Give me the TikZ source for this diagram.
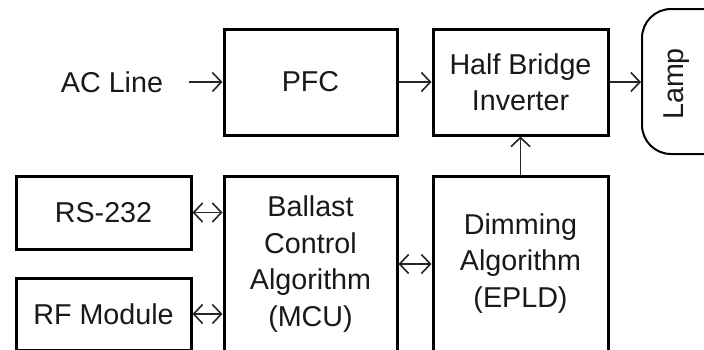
\documentclass[tikz,border=0pt]{standalone}
\usepackage{fontspec}
\setmainfont{Liberation Sans}
\usetikzlibrary{arrows.meta}
\begin{document}
\begin{tikzpicture}[x=1pt,y=-1pt,
  every node/.style={font=\fontsize{28.7}{36.5}\selectfont, text=black!90},
  blk/.style={draw=black, line width=3pt, align=center, inner sep=0pt},
  tip/.tip={Straight Barb[length=9pt,width=19pt,line width=1.6pt]},
  arr/.style={line width=1.7pt, draw=black!85, -tip},
  darr/.style={line width=1.7pt, draw=black!85, tip-tip}]
\useasboundingbox (0,0) rectangle (704,349);
\clip (0,0) rectangle (704,349);
\node[blk, minimum width=173pt, minimum height=106pt] (pfc) at (310.5,82) {PFC};
\node[blk, minimum width=175pt, minimum height=106pt] (hb) at (520.5,82) {Half Bridge\\Inverter};
\node[blk, minimum width=175pt, minimum height=73pt] (rs) at (103.5,212.5) {RS-232};
\node[blk, minimum width=175pt, minimum height=72pt] (rf) at (103.5,314) {RF Module};
\node[blk, minimum width=173pt, minimum height=175pt] (mcu) at (310.5,264) {Ballast\\Control\\Algorithm\\(MCU)};
\node[blk, minimum width=175pt, minimum height=175pt] (epld) at (520.5,263.5) {Dimming\\Algorithm\\(EPLD)};
\node[draw=black, line width=2pt, rounded corners=29pt, minimum width=110pt, minimum height=145pt, inner sep=0pt] (lamp) at (697,81.5) {};
\node[rotate=90] (lamplabel) at (677,84) {Lamp};
\node (ac) at (112,82) {AC Line};
\draw[arr, shorten <=22pt] (ac.east) -- (pfc.west);
\draw[arr] (pfc.east) -- (hb.west);
\draw[arr] (hb.east) -- (hb.east -| lamp.west);
\draw[arr] (epld.north) -- (hb.south);
\draw[darr] (rs.east) -- (rs.east -| mcu.west);
\draw[darr] (rf.east) -- (rf.east -| mcu.west);
\draw[darr] (mcu.east) -- (mcu.east -| epld.west);
\end{tikzpicture}
\end{document}
